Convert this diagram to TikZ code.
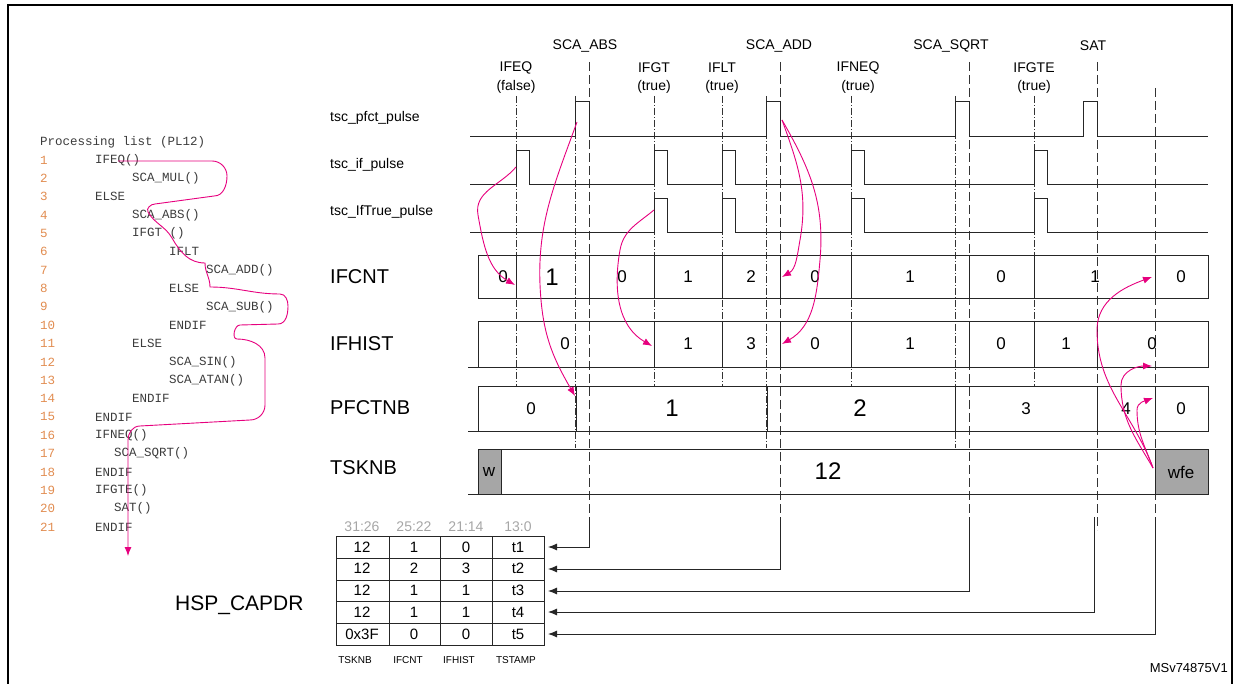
\documentclass[tikz,border=0pt]{standalone}
\usepackage{fontspec}
\setmainfont{Liberation Sans}
\newfontfamily\codefont{Liberation Mono}
\usetikzlibrary{arrows.meta}
\definecolor{mag}{RGB}{230,0,126}
\definecolor{lno}{RGB}{225,140,80}
\definecolor{codec}{RGB}{60,60,60}
\begin{document}
\begin{tikzpicture}[x=1pt,y=-1pt,
  lbl/.style={font=\fontsize{14}{14}\selectfont,inner sep=0},
  big/.style={font=\fontsize{20}{20}\selectfont,anchor=west,inner sep=0},
  val/.style={font=\fontsize{17}{17}\selectfont,inner sep=0},
  valb/.style={font=\fontsize{24}{24}\selectfont,inner sep=0},
  dd/.style={black!80,line width=0.6pt,dash pattern=on 7pt off 2pt on 1pt off 2pt},
  ds/.style={black!80,line width=0.7pt,dash pattern=on 9pt off 4pt},
  wave/.style={black!85,line width=0.9pt},
  box/.style={draw=black!85,line width=0.9pt},
  arr/.style={mag,line width=0.9pt,-{Latex[length=9pt,width=7pt]}},
  capt/.style={black!85,line width=0.9pt,-{Latex[length=9pt,width=7pt]}},
  code/.style={font=\codefont\fontsize{12.5}{12.5}\selectfont,text=codec,anchor=west,inner sep=0},
  num/.style={font=\codefont\fontsize{12.5}{12.5}\selectfont,text=lno,anchor=west,inner sep=0},
  tb/.style={font=\fontsize{15}{15}\selectfont,inner sep=0},
  small/.style={font=\fontsize{10}{10}\selectfont,inner sep=0}]
\useasboundingbox (0,0) rectangle (1240,684);
\draw[black,line width=1.2pt] (8,684) -- (8,5) -- (1232,5) -- (1232,684);

% ---- code list
\node[code] (pl) at (40,142) {Processing list (PL12)};
\foreach \n/\x/\t [count=\i] in {1/95/IFEQ(),2/132/SCA\_MUL(),3/95/ELSE,4/132/SCA\_ABS(),5/132/IFGT (),6/169/IFLT,7/206/SCA\_ADD(),8/169/ELSE,9/206/SCA\_SUB(),10/169/ENDIF,11/132/ELSE,12/169/SCA\_SIN(),13/169/SCA\_ATAN(),14/132/ENDIF,15/95/ENDIF,16/95/IFNEQ(),17/114/SCA\_SQRT(),18/95/ENDIF,19/95/IFGTE(),20/114/SAT(),21/95/ENDIF}{
  \node[num] (n\i) at (40,{160+(\i-1)*18.35}) {\n};
  \node[code] (c\i) at (\x,{160+(\i-1)*18.35}) {\t};
}
\draw[arr] (118,161) -- (212,161) to[out=0,in=90] (227,176) to[out=-90,in=0] (214,196)
  -- (155,204) to[out=180,in=120] (148,212) to[out=-60,in=120] (172,238) to[out=-60,in=180] (205,263)
  to[out=-90,in=90] (210,287) to[out=0,in=180] (280,294) to[out=0,in=90] (288,306)
  to[out=-90,in=0] (278,324) -- (240,325) to[out=180,in=180] (237,339) to[out=0,in=90] (265,358)
  -- (265,405) to[out=-90,in=0] (250,420) -- (140,426) to[out=180,in=90] (128,440) -- (128,556);

% ---- signal labels
\node[lbl,anchor=west] (s1) at (330,118) {tsc\_pfct\_pulse};
\node[lbl,anchor=west] (s2) at (330,165) {tsc\_if\_pulse};
\node[lbl,anchor=west] (s3) at (330,212) {tsc\_IfTrue\_pulse};
\node[big] (r1) at (330,277) {IFCNT};
\node[big] (r2) at (330,344) {IFHIST};
\node[big] (r3) at (330,408) {PFCTNB};
\node[big] (r4) at (330,468) {TSKNB};

% ---- top labels
\node[lbl] (tabs) at (585,46) {SCA\_ABS};
\node[lbl] (tadd) at (779,46) {SCA\_ADD};
\node[lbl] (tsq) at (951,46) {SCA\_SQRT};
\node[lbl] (tsat) at (1093,46) {SAT};
\foreach \x/\a/\b/\nm in {516/IFEQ/(false)/q,654/IFGT/(true)/g,722/IFLT/(true)/l,858/IFNEQ/(true)/n,1034/IFGTE/(true)/e}{
  \node[lbl] (h\nm) at (\x,68) {\a};
  \node[lbl] (hh\nm) at (\x,87) {\b};
}

% ---- vertical guide lines
\foreach \x in {516,654,722,851,1034} \draw[dd] (\x,96) -- (\x,386);
\foreach \x in {575,766,955} \draw[dd] (\x,96) -- (\x,448);
\foreach \x in {589,780,969,1097} \draw[ds] (\x,62) -- (\x,530);
\draw[ds] (1155,88) -- (1155,530);

% ---- waveforms
\draw[wave] (470,136) -- (575,136) -- (575,101) -- (589,101) -- (589,136) -- (766,136) -- (766,101) -- (780,101) -- (780,136)
  -- (955,136) -- (955,101) -- (969,101) -- (969,136) -- (1083,136) -- (1083,101) -- (1097,101) -- (1097,136) -- (1208,136);
\draw[wave] (470,184) \foreach \x in {516,654,722,851,1034}{ -- (\x,184) -- (\x,150) -- (\x+13,150) -- (\x+13,184)} -- (1208,184);
\draw[wave] (470,232) \foreach \x in {654,722,851,1034}{ -- (\x,232) -- (\x,198) -- (\x+13,198) -- (\x+13,232)} -- (1208,232);

% ---- register boxes
\draw[box] (478,255) rectangle (1208,298);
\foreach \x in {516,589,654,722,780,851,969,1034,1155} \draw[box] (\x,255) -- (\x,298);
\foreach \x/\v in {503/0,688/1,751/2,815/0,910/1,1001/0,1181/0}{\node[val] at (\x,277) {\v};}
\node[valb] at (552,277) {1};
\node[val] at (622,277) {0};
\node[val] at (1095,277) {1};

\draw[box] (478,321) rectangle (1208,367);
\foreach \x in {654,722,780,851,969,1034,1097} \draw[box] (\x,321) -- (\x,367);
\foreach \x/\v in {565/0,688/1,751/3,815/0,910/1,1001/0,1066/1,1152/0}{\node[val] at (\x,344) {\v};}
\draw[wave] (468,367) -- (478,367);

\draw[box] (478,386) rectangle (1208,431);
\foreach \x in {576,767,955,1097,1155} \draw[box] (\x,386) -- (\x,431);
\node[val] at (531,409) {0};
\node[valb] at (672,408) {1};
\node[valb] at (860,408) {2};
\node[val] at (1026,409) {3};
\node[val] at (1126,409) {4};
\node[val] at (1181,409) {0};
\draw[wave] (468,431) -- (478,431);

\draw[box,fill=gray!70] (478,449) rectangle (501,494);
\draw[box] (501,449) rectangle (1155,494);
\draw[box,fill=gray!70] (1155,449) rectangle (1208,494);
\node[val] (wl) at (489,472) {w};
\node[valb] (tk) at (828,471) {12};
\node[val] (wfe) at (1181,472) {wfe};
\draw[wave] (468,494) -- (478,494);

% ---- HSP_CAPDR table
\node[font=\fontsize{21}{21}\selectfont,anchor=west,inner sep=0] (hsp) at (175,605) {HSP\_CAPDR};
\foreach \x/\t in {362/31:26,414/25:22,466/21:14,518/13:0}{\node[lbl,text=black!35] at (\x,527) {\t};}
\foreach \x/\t in {355/TSKNB,408/IFCNT,459/IFHIST,516/TSTAMP}{\node[small] at (\x,660) {\t};}
\draw[box] (336,536) rectangle (544,645);
\foreach \y in {558,580,601,623} \draw[box] (336,\y) -- (544,\y);
\foreach \x in {389,440,492} \draw[box] (\x,536) -- (\x,645);
\foreach \a/\b/\c/\d [count=\r] in {12/1/0/t1,12/2/3/t2,12/1/1/t3,12/1/1/t4,0x3F/0/0/t5}{
  \pgfmathsetmacro\yy{536+(\r-0.5)*21.8}
  \node[tb] at (362,\yy) {\a};
  \node[tb] at (414,\yy) {\b};
  \node[tb] at (466,\yy) {\c};
  \node[tb] (t\r) at (518,\yy) {\d};
}
\foreach \x/\y in {589/547,780/569,969/591,1094/612,1155/634}{
  \draw[capt] (\x,517) -- (\x,\y) -- (548,\y);
}

% ---- magenta arrows
\draw[arr] (516,167) to[out=-130,in=100] (478,215) to[out=-80,in=150] (515,285);
\draw[arr] (577,122) to[out=-110,in=95] (541,300) to[out=-85,in=120] (575,396);
\draw[arr] (654,210) to[out=-140,in=80] (620,250) to[out=-100,in=150] (652,346);
\draw[arr] (782,120) to[out=-70,in=80] (800,240) to[out=-100,in=30] (782,277);
\draw[arr] (782,120) to[out=-60,in=85] (820,260) to[out=-95,in=30] (782,344);
\draw[arr] (1153,468) to[out=110,in=-90] (1097,330) to[out=90,in=200] (1152,277);
\draw[arr] (1153,468) to[out=120,in=-90] (1121,385) to[out=90,in=180] (1152,366);
\draw[arr] (1153,468) to[out=110,in=-90] (1137,410) to[out=90,in=200] (1153,398);

\node[font=\fontsize{13}{13}\selectfont,anchor=east,inner sep=0] (ms) at (1228,668) {MSv74875V1};
\end{tikzpicture}
\end{document}
